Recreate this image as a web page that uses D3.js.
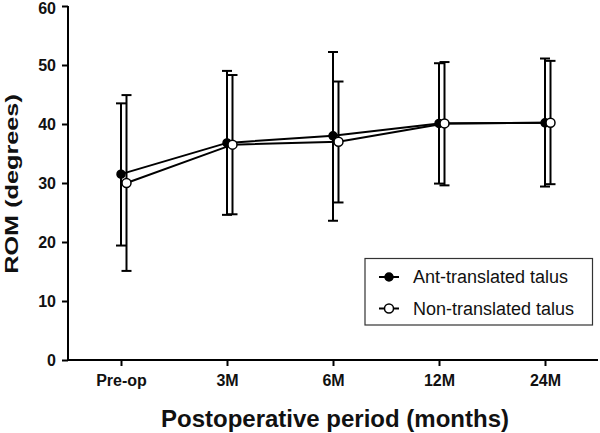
<!DOCTYPE html>
<html><head><meta charset="utf-8">
<script src="https://cdn.jsdelivr.net/npm/d3@7"></script>
<style>body{margin:0;background:#fff}svg{display:block}</style>
</head><body>
<script>
const categories = ["Pre-op","3M","6M","12M","24M"];
const antMean  = [31.5, 36.8, 38.0, 40.1, 40.2];
const antUpper = [43.5, 49.0, 52.2, 50.3, 51.1];
const antLower = [19.4, 24.6, 23.6, 29.9, 29.4];
const nonMean  = [30.0, 36.5, 37.0, 40.1, 40.2];
const nonUpper = [44.9, 48.3, 47.2, 50.5, 50.7];
const nonLower = [15.1, 24.7, 26.7, 29.6, 29.8];
const yTicks = [0,10,20,30,40,50,60];
const seriesNames = ["Ant-translated talus","Non-translated talus"];

const W=600,H=433;
const svg=d3.select("body").append("svg").attr("width",W).attr("height",H);
const x=d3.scalePoint().domain(categories).range([68,598]).padding(0.5);
const y=d3.scaleLinear().domain([0,60]).range([360,6]);
const font="Liberation Sans, Arial, sans-serif";

const series=[
  {name:seriesNames[0],mean:antMean,up:antUpper,lo:antLower,off:0,fill:"#000"},
  {name:seriesNames[1],mean:nonMean,up:nonUpper,lo:nonLower,off:5.5,fill:"#fff"}
];

// axes
const ya=svg.append("g").attr("transform","translate(68,0)")
  .call(d3.axisLeft(y).tickValues(yTicks).tickSize(6).tickPadding(6));
const xa=svg.append("g").attr("transform","translate(0,360)")
  .call(d3.axisBottom(x).tickSize(6).tickPadding(9));
[ya,xa].forEach(a=>{
  a.selectAll("path,line").attr("stroke","#000").attr("stroke-width",2);
  a.selectAll("text").attr("font-family",font).attr("font-weight","bold").attr("font-size",16).attr("fill","#111");
});
ya.selectAll(".tick text").filter(d=>d===60).attr("dy","0.45em");
xa.select(".domain").attr("d","M68,0H598");
ya.select(".domain").attr("d","M0,6V360");

// error bars
series.forEach(s=>{
  const g=svg.append("g");
  categories.forEach((c,i)=>{
    const cx=x(c)+s.off;
    g.append("line").attr("x1",cx).attr("x2",cx).attr("y1",y(s.up[i])).attr("y2",y(s.lo[i])).attr("stroke","#000").attr("stroke-width",2);
    [s.up[i],s.lo[i]].forEach(v=>{
      g.append("line").attr("x1",cx-5).attr("x2",cx+5).attr("y1",y(v)).attr("y2",y(v)).attr("stroke","#000").attr("stroke-width",2);
    });
  });
});
// lines
series.forEach(s=>{
  svg.append("path").datum(s.mean)
    .attr("d",d3.line().x((d,i)=>x(categories[i])+s.off).y(d=>y(d)))
    .attr("fill","none").attr("stroke","#000").attr("stroke-width",2);
});
// markers
series.forEach(s=>{
  svg.append("g").selectAll("circle").data(s.mean).join("circle")
    .attr("cx",(d,i)=>x(categories[i])+s.off).attr("cy",d=>y(d))
    .attr("r",s.fill==="#000"?4:4.5).attr("fill",s.fill).attr("stroke","#000").attr("stroke-width",1.5);
});

// legend
const lg=svg.append("g");
lg.append("rect").attr("x",365).attr("y",258.5).attr("width",227.5).attr("height",66.5)
  .attr("fill","#fff").attr("stroke","#333").attr("stroke-width",1.2);
series.forEach((s,i)=>{
  const ly=277+i*31.5;
  lg.append("line").attr("x1",379).attr("x2",399).attr("y1",ly).attr("y2",ly).attr("stroke","#000").attr("stroke-width",2);
  lg.append("circle").attr("cx",389).attr("cy",ly).attr("r",s.fill==="#000"?4:4.5).attr("fill",s.fill).attr("stroke","#000").attr("stroke-width",1.5);
  lg.append("text").attr("x",413).attr("y",ly).attr("dy","0.36em").attr("font-family",font).attr("font-size",18).attr("fill","#111").text(s.name);
});

// titles
svg.append("text").attr("x",335).attr("y",427).attr("text-anchor","middle")
  .attr("font-family",font).attr("font-weight","bold").attr("font-size",24).attr("fill","#111")
  .text("Postoperative period (months)");
svg.append("text").attr("transform","translate(18,184) rotate(-90) scale(1.33,1)").attr("text-anchor","middle")
  .attr("font-family",font).attr("font-weight","bold").attr("font-size",19).attr("fill","#111")
  .text("ROM (degrees)");
</script>
</body></html>
